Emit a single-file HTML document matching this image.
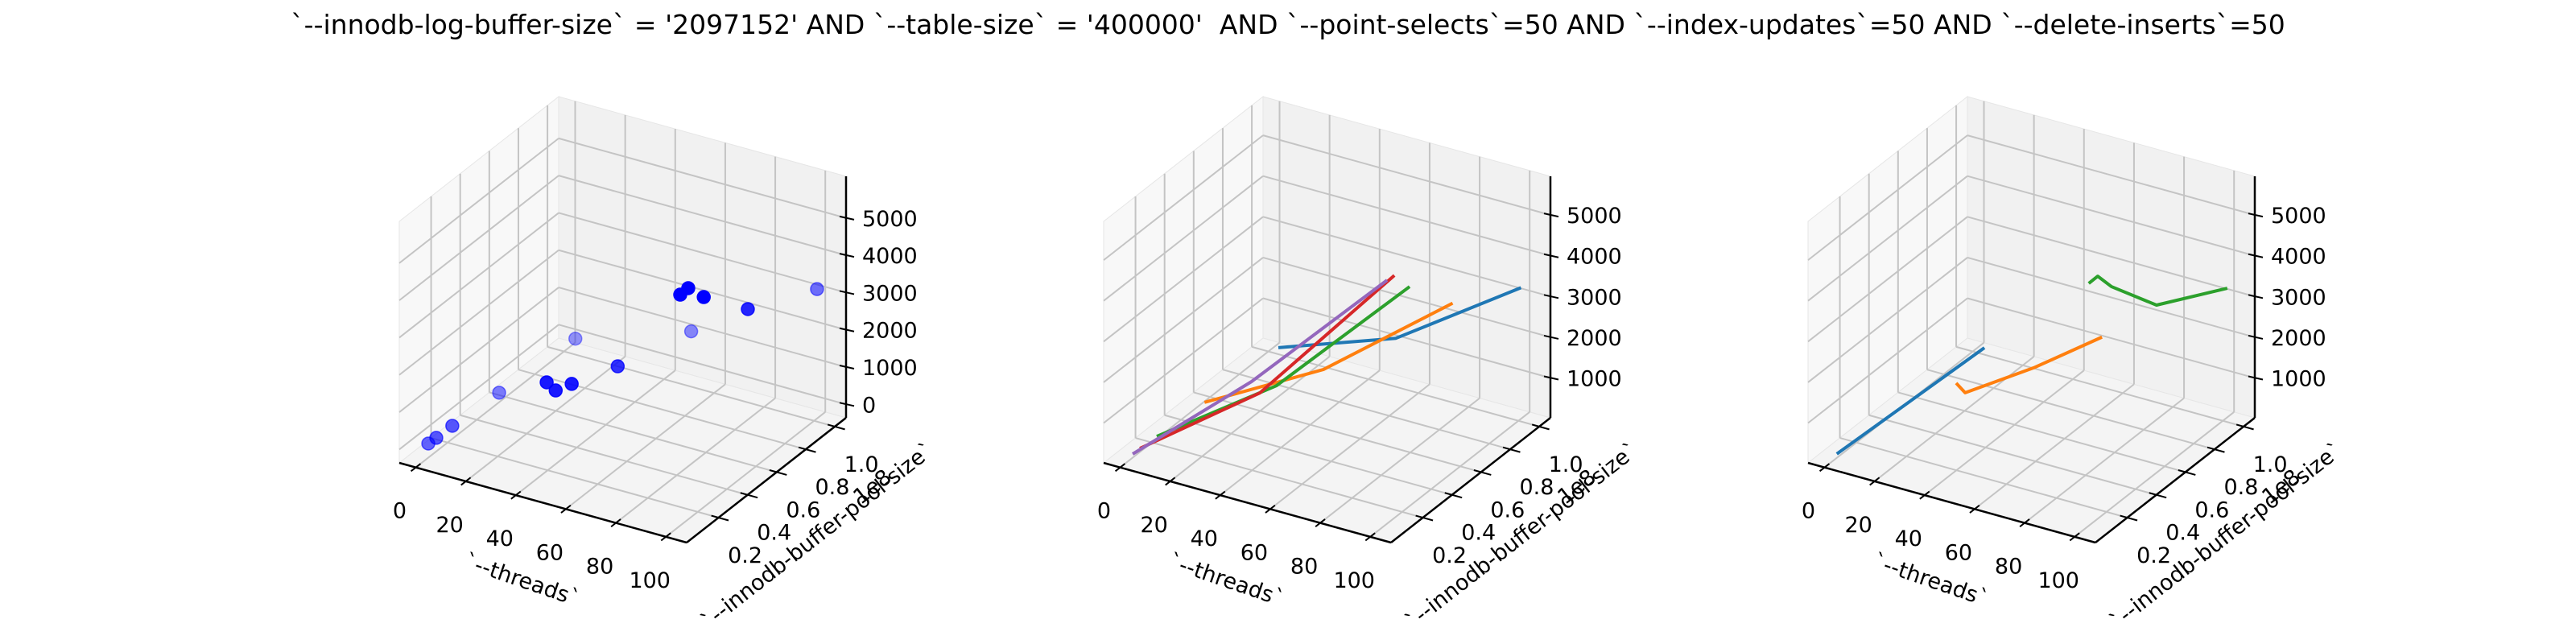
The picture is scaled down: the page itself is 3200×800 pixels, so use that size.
<!DOCTYPE html>
<html><head><meta charset="utf-8"><style>
html,body{margin:0;padding:0;background:#fff;}
svg{display:block;font-family:"DejaVu Sans","Liberation Sans",sans-serif;}
</style></head><body>
<svg id="fig" width="3200" height="800" viewBox="0 0 3200 800">
<text x="1600" y="42" text-anchor="middle" font-size="33" style="white-space:pre">`--innodb-log-buffer-size` = '2097152' AND `--table-size` = '400000'  AND `--point-selects`=50 AND `--index-updates`=50 AND `--delete-inserts`=50</text>
</svg>
<script>
// ---- data ----
const xTicks = [0, 20, 40, 60, 80, 100];
const yTicks = [0.2, 0.4, 0.6, 0.8, 1.0];
const zTicksA = [0, 1000, 2000, 3000, 4000, 5000];
const zTicksB = [1000, 2000, 3000, 4000, 5000];
// panel 1 scatter: threads, pool size (1e8), value
const scatterThreads = [1.8, 5.0, 8.2, 7.8, 6.3, 33.2, 40.0, 43.2, 48.8, 52.6, 83.4, 86.6, 92.8, 97.7, 100];
const scatterPool = [0.036, 0.036, 0.091, 0.42, 0.97, 0.31, 0.255, 0.31, 0.53, 0.97, 0.365, 0.365, 0.365, 0.584, 1.02];
const scatterValue = [147, 359, 574, 450, 192, 1537, 1614, 1680, 1585, 1250, 4656, 4890, 4766, 3865, 3113];
const scatterAlpha = [0.6, 0.65, 0.65, 0.5, 0.4, 0.9, 0.9, 0.9, 0.8, 0.45, 1, 1, 1, 0.85, 0.55];
// panel 2 lines
const p2Threads = [[4, 51, 101], [1.8, 49.4, 101], [5.1, 53, 96.6], [4.7, 49.5, 93.7], [1.8, 43, 87.6]];
const p2Pool = [[1.0, 1.0, 1.0], [0.53, 0.53, 0.53], [0.145, 0.145, 0.31], [0.036, 0.091, 0.255], [0.036, 0.145, 0.31]];
const p2Value = [[182, 1214, 3307], [116, 1735, 4240], [414, 2475, 5187], [416, 2389, 5566], [229, 2404, 5193]];
// panel 3 lines
const p3Threads = [[4.9, 4.9], [20.7, 24.3, 51.7, 79], [48.3, 51.9, 57.4, 75.4, 103.7]];
const p3Pool = [[-0.019, 0.996], [0.53, 0.53, 0.53, 0.53], [0.967, 0.967, 0.967, 0.967, 0.967]];
const p3Value = [[437, 206], [912, 736, 1814, 3033], [2607, 2845, 2683, 2536, 3431]];
const colors = ['#1f77b4', '#ff7f0e', '#2ca02c', '#d62728', '#9467bd'];

const NS = 'http://www.w3.org/2000/svg';
const svg = document.getElementById('fig');
function mk(tag, attrs, parent) {
  const e = document.createElementNS(NS, tag);
  for (const k in attrs) e.setAttribute(k, attrs[k]);
  (parent || svg).appendChild(e);
  return e;
}
const XR = [-6.6, 108.3], YR = [-0.019, 1.077];
function makePanel(ox, zr, zTicks, idx) {
  const g = mk('g', {});
  
  
  const O = [ox, 575], VX = [357, 99], VY = [198, -155], VZ = [0, -300];
  const fx = x => (x - XR[0]) / (XR[1] - XR[0]);
  const fy = y => (y - YR[0]) / (YR[1] - YR[0]);
  const fz = z => (z - zr[0]) / (zr[1] - zr[0]);
  const P = (a, b, c) => [O[0] + VX[0]*a + VY[0]*b + VZ[0]*c, O[1] + VX[1]*a + VY[1]*b + VZ[1]*c];
  const proj = (x, y, z) => P(fx(x), fy(y), fz(z));
  const poly = (pts, fill, name) => {
    const e = mk('polygon', {points: pts.map(p => p.join(',')).join(' '), fill: fill, stroke: '#e6e6e6', 'stroke-width': 1}, g);
    
    
  };
  const line = (a, b, st, w, name) => {
    const e = mk('line', {x1: a[0], y1: a[1], x2: b[0], y2: b[1], stroke: st, 'stroke-width': w}, g);
    
    
    return e;
  };
  poly([P(0,0,0), P(0,1,0), P(0,1,1), P(0,0,1)], '#f8f8f8', 'left-pane');
  poly([P(0,1,0), P(1,1,0), P(1,1,1), P(0,1,1)], '#f1f1f1', 'back-pane');
  poly([P(0,0,0), P(1,0,0), P(1,1,0), P(0,1,0)], '#f4f4f4', 'floor-pane');
  const gc = '#c4c4c4';
  xTicks.forEach(t => {
    const a = fx(t);
    line(P(a,0,0), P(a,1,0), gc, 2, 'x-grid-floor');
    line(P(a,1,0), P(a,1,1), gc, 2, 'x-grid-back');
  });
  yTicks.forEach(t => {
    const b = fy(t);
    line(P(0,b,0), P(1,b,0), gc, 2, 'y-grid-floor');
    line(P(0,b,0), P(0,b,1), gc, 2, 'y-grid-left');
  });
  zTicks.forEach(t => {
    const c = fz(t);
    line(P(0,0,c), P(0,1,c), gc, 2, 'z-grid-left');
    line(P(0,1,c), P(1,1,c), gc, 2, 'z-grid-back');
  });
  line(P(0,0,0), P(1,0,0), '#000', 2.5, 'x-axis-line');
  line(P(1,0,0), P(1,1,0), '#000', 2.5, 'y-axis-line');
  line(P(1,1,0), P(1,1,1), '#000', 2.5, 'z-axis-line');
  const txt = (x, y, s, attrs, name) => {
    const e = mk('text', Object.assign({x: x, y: y, 'font-size': 27, fill: '#000'}, attrs || {}), g);
    e.textContent = s;
    
    
    return e;
  };
  xTicks.forEach(t => {
    const a = fx(t);
    line(P(a,-0.03,0), P(a,0.03,0), '#000', 2, 'x-tick');
    const p = P(a,0,0);
    txt(p[0] - 20, p[1] + 63, String(t), {'text-anchor': 'middle'}, 'x-tick-label');
  });
  yTicks.forEach(t => {
    const b = fy(t);
    line(P(0.975,b,0), P(1.035,b,0), '#000', 2, 'y-tick');
    const p = P(1,b,0);
    txt(p[0] + 33, p[1] + 56, t.toFixed(1), {'text-anchor': 'middle'}, 'y-tick-label');
  });
  zTicks.forEach(t => {
    const c = fz(t);
    const p = P(1,1,c);
    line([p[0] - 8, p[1] - 2], [p[0] + 10, p[1] + 2], '#000', 2, 'z-tick');
    txt(p[0] + 20, p[1] + 10, String(t), {'text-anchor': 'start'}, 'z-tick-label');
  });
  const xl = P(0.47, 0, 0);
  const xcx = xl[0] - 15, xcy = xl[1] + 98;
  txt(xcx, xcy + 10, '`--threads`', {'text-anchor': 'middle', transform: `rotate(19 ${xcx} ${xcy})`}, 'x-axis-title');
  const yl = P(1, 0.5, 0);
  const ycx = yl[0] + 63, ycy = yl[1] + 68;
  txt(ycx, ycy + 10, '`--innodb-buffer-pool-size`', {'text-anchor': 'middle', transform: `rotate(-38 ${ycx} ${ycy})`}, 'y-axis-title');
  const oe = P(1, 1, 0);
  const ocx = oe[0] + 32, ocy = oe[1] + 85;
  txt(ocx, ocy + 10, '1e8', {'text-anchor': 'middle', transform: `rotate(-38 ${ocx} ${ocy})`}, 'y-offset-label');
  return {g: g, proj: proj};
}
const p1 = makePanel(496, [-360, 6120], zTicksA, 1);
const p2 = makePanel(1371, [22, 5951], zTicksB, 2);
const p3 = makePanel(2246, [22, 5951], zTicksB, 3);

scatterThreads.forEach((t, i) => {
  const p = p1.proj(t, scatterPool[i], scatterValue[i]);
  const c = mk('circle', {cx: p[0], cy: p[1], r: 8, fill: '#0000ff', 'fill-opacity': scatterAlpha[i], stroke: '#0000ff', 'stroke-opacity': scatterAlpha[i], 'stroke-width': 1.5}, p1.g);
  
  
});
function drawLines(panel, T, Pl, V, name) {
  T.forEach((ts, i) => {
    const pts = ts.map((t, j) => panel.proj(t, Pl[i][j], V[i][j]).join(',')).join(' ');
    const e = mk('polyline', {points: pts, fill: 'none', stroke: colors[i], 'stroke-width': 4, 'stroke-linejoin': 'round'}, panel.g);
    
    
  });
}
drawLines(p2, p2Threads, p2Pool, p2Value, 'series-line');
drawLines(p3, p3Threads, p3Pool, p3Value, 'series-line');
</script>
</body></html>
